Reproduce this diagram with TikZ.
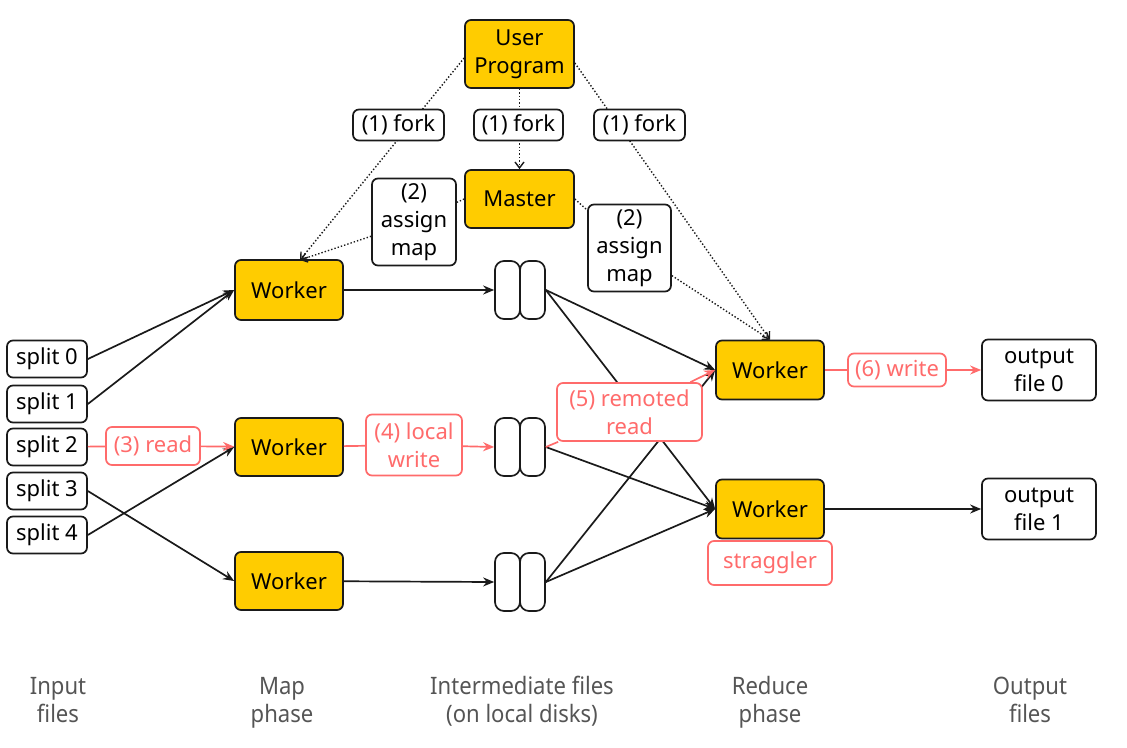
\documentclass[tikz,border=0pt]{standalone}
\usepackage{fontspec}
\setmainfont{Noto Sans}
\newfontfamily\condfont[FakeStretch=0.92]{Noto Sans}
\usetikzlibrary{arrows.meta}
\definecolor{ya}{HTML}{FFCC00}
\definecolor{rd}{HTML}{FF6B6B}
\definecolor{gr}{HTML}{555555}
\definecolor{ink}{HTML}{1A1A1A}
\begin{document}
\begin{tikzpicture}[x=1pt,y=-1pt,
  box/.style={draw=ink, line width=1.7pt, rounded corners=6pt, align=center, inner sep=0pt,
    font=\fontsize{22}{28}\selectfont},
  work/.style={box, fill=ya},
  lab/.style={box, fill=white},
  rlab/.style={box, draw=rd, text=rd, fill=white},
  disk/.style={draw=ink, line width=1.7pt, rounded corners=9pt, minimum width=25pt, minimum height=58pt, inner sep=0pt},
  arr/.style={draw=ink, line width=1.7pt, -{Stealth[length=11pt,width=9pt]}},
  rarr/.style={draw=rd, line width=1.7pt, -{Stealth[length=11pt,width=9pt]}},
  dotarr/.style={draw=ink, line width=1.4pt, dotted, -{Straight Barb[length=6pt,width=9pt]}},
  phase/.style={align=center, anchor=base, inner sep=0pt, text=gr, font=\condfont\fontsize{24}{28}\selectfont}
]
\useasboundingbox (0,0) rectangle (1127,747);

% main nodes
\node[work, minimum width=109pt, minimum height=68pt] (up) at (519.5,54) {User\\Program};
\node[work, minimum width=109pt, minimum height=58pt] (m) at (519.5,199) {Master};
\node[work, minimum width=108pt, minimum height=60pt] (w1) at (289,290) {Worker};
\node[work, minimum width=108pt, minimum height=58pt] (w2) at (289,447) {Worker};
\node[work, minimum width=108pt, minimum height=58pt] (w3) at (289,581) {Worker};
\node[work, minimum width=108pt, minimum height=59pt] (r1) at (770,370) {Worker};
\node[work, minimum width=108pt, minimum height=59pt] (r2) at (770,509) {Worker};
\node[lab, minimum width=114pt, minimum height=61pt] (o0) at (1039,370) {output\\file 0};
\node[lab, minimum width=114pt, minimum height=61pt] (o1) at (1039,509) {output\\file 1};

\foreach \n/\y in {0/359,1/404,2/447,3/491,4/535}
  \node[lab, minimum width=80pt, minimum height=37pt] (s\n) at (47,\y) {split \n};

\foreach \n/\y in {1/290,2/447,3/582}{
  \node[disk] (d\n a) at (507.5,\y) {};
  \node[disk] (d\n b) at (532.5,\y) {};
}

\coordinate (w1in) at (300,260);

% black connectors
\draw[arr] (s0.east) -- (w1.west);
\draw[arr] (s1.east) -- (w1.west);
\draw[arr] (s4.east) -- (w2.west);
\draw[arr] (s3.east) -- (w3.west);
\draw[arr] (w1) -- (d1a.west);
\draw[arr] (w3) -- (d3a.west);
\draw[arr] (d1b.east) -- (r1.west);
\draw[arr] (d1b.east) -- (r2.west);
\draw[arr] (d2b.east) -- (r2.west);
\draw[arr] (d3b.east) -- (r1.west);
\draw[arr] (d3b.east) -- (r2.west);
\draw[arr] (r2) -- (o1);

% dotted fork lines (labels sit on top)
\draw[dotarr] ([yshift=-4pt]up.west) -- (w1in);
\draw[dotarr] ([yshift=-9pt]up.east) -- (r1.north);
\draw[dotarr] (up) -- (m);

% labels
\node[lab, minimum width=91pt, minimum height=31pt] (f1) at (398.5,125) {(1) fork};
\node[lab, minimum width=89pt, minimum height=31pt] (f2) at (518.5,125) {(1) fork};
\node[lab, minimum width=91pt, minimum height=31pt] (f3) at (639.5,125) {(1) fork};
\node[lab, minimum width=84pt, minimum height=87pt] (a1) at (414,222) {(2)\\assign\\map};
\node[lab, minimum width=83pt, minimum height=87pt] (a2) at (629.5,248) {(2)\\assign\\map};
\node[rlab, minimum width=94pt, minimum height=38pt] (rdl) at (153,446) {(3) read};
\node[rlab, minimum width=96pt, minimum height=61pt] (lw) at (414,445) {(4) local\\write};
\node[rlab, minimum width=145pt, minimum height=58pt] (rr) at (629.5,412) {(5) remoted\\read};
\node[rlab, minimum width=98pt, minimum height=33pt] (wr) at (897,370) {(6) write};
\node[rlab, minimum width=124pt, minimum height=44pt] (st) at (770,563) {straggler};

% dotted assign lines
\draw[dotarr] (m.west) -- (a1) -- (w1in);
\draw[dotarr] (m.east) -- (a2) -- (r1.north);

% red connectors
\draw[rarr] (s2) -- (rdl) -- (w2);
\draw[rarr] (w2) -- (lw) -- (d2a.west);
\draw[rarr] (d2b.east) -- (rr) -- (r1.west);
\draw[rarr] (r1) -- (wr) -- (o0);

% phase labels
\node[phase] (p1) at (58,722) {Input\\files};
\node[phase] (p2) at (282,722) {Map\\phase};
\node[phase] (p3) at (522,722) {Intermediate files\\(on local disks)};
\node[phase] (p4) at (770,722) {Reduce\\phase};
\node[phase] (p5) at (1030,722) {Output\\files};
\end{tikzpicture}
\end{document}
